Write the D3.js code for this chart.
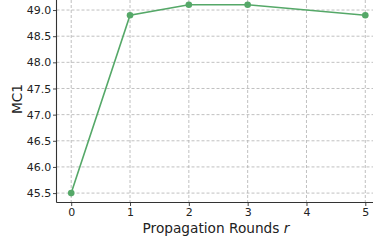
<!DOCTYPE html>
<html>
<head>
<meta charset="utf-8">
<script src="https://cdn.jsdelivr.net/npm/d3@7"></script>
<style>
  body { margin: 0; background: #fff; }
  svg { display: block; font-family: "DejaVu Sans", sans-serif; }
</style>
</head>
<body>
<div id="chart"></div>
<script>
var rounds = [0, 1, 2, 3, 5];
var mc1 = [45.5, 48.9, 49.1, 49.1, 48.9];
var xTicks = [0, 1, 2, 3, 4, 5];
var yTicks = [45.5, 46.0, 46.5, 47.0, 47.5, 48.0, 48.5, 49.0];

var width = 373, height = 242;
var left = 56.5, bottom = 202.5;

var svg = d3.select("#chart").append("svg")
  .attr("width", width)
  .attr("height", height);

// matplotlib style margins, right/top edges run off the canvas
var x = d3.scaleLinear().domain([-0.25, 5.25]).range([left, 380]);
var y = d3.scaleLinear().domain([45.32, 49.28]).range([bottom, -4.6]);

// grid
svg.append("g").selectAll("line")
  .data(xTicks).enter().append("line")
  .attr("x1", d => x(d)).attr("x2", d => x(d))
  .attr("y1", -5).attr("y2", bottom)
  .attr("stroke", "#b0b0b0").attr("stroke-width", 0.8)
  .attr("stroke-dasharray", "3,2");

svg.append("g").selectAll("line")
  .data(yTicks).enter().append("line")
  .attr("x1", left).attr("x2", width)
  .attr("y1", d => y(d)).attr("y2", d => y(d))
  .attr("stroke", "#b0b0b0").attr("stroke-width", 0.8)
  .attr("stroke-dasharray", "3,2");

var xAxis = svg.append("g")
  .attr("transform", "translate(0," + bottom + ")")
  .call(d3.axisBottom(x).tickValues(xTicks).tickFormat(d3.format("d")).tickSize(3.5).tickPadding(2));

var yAxis = svg.append("g")
  .attr("transform", "translate(" + left + ",0)")
  .call(d3.axisLeft(y).tickValues(yTicks).tickFormat(d3.format(".1f")).tickSize(3.5).tickPadding(1.8));

[xAxis, yAxis].forEach(function(a) {
  a.select(".domain").attr("stroke", "#333").attr("stroke-width", 1.1);
  a.selectAll(".tick line").attr("stroke", "#333").attr("stroke-width", 0.9);
  a.selectAll("text").attr("fill", "#222").style("font-size", "11px")
    .style("font-family", "DejaVu Sans, sans-serif");
});
xAxis.select(".domain").attr("d", "M" + left + ",0H" + width);
yAxis.select(".domain").attr("d", "M0," + bottom + "V-5");

// line + markers
var line = d3.line()
  .x(function(d, i) { return x(rounds[i]); })
  .y(function(d) { return y(d); });

svg.append("path")
  .datum(mc1)
  .attr("d", line)
  .attr("fill", "none")
  .attr("stroke", "#55a868")
  .attr("stroke-width", 1.6);

svg.append("g").selectAll("circle")
  .data(mc1).enter().append("circle")
  .attr("cx", function(d, i) { return x(rounds[i]); })
  .attr("cy", d => y(d))
  .attr("r", 3.3)
  .attr("fill", "#55a868");

// axis labels
var xl = svg.append("text")
  .attr("x", 216).attr("y", 233)
  .attr("text-anchor", "middle")
  .style("font-size", "13.7px")
  .attr("fill", "#222");
xl.append("tspan").text("Propagation Rounds ");
xl.append("tspan").style("font-style", "italic").text("r");

svg.append("text")
  .attr("transform", "translate(21.5,99) rotate(-90)")
  .attr("text-anchor", "middle")
  .style("font-size", "13.7px")
  .attr("fill", "#222")
  .text("MC1");
</script>
</body>
</html>
